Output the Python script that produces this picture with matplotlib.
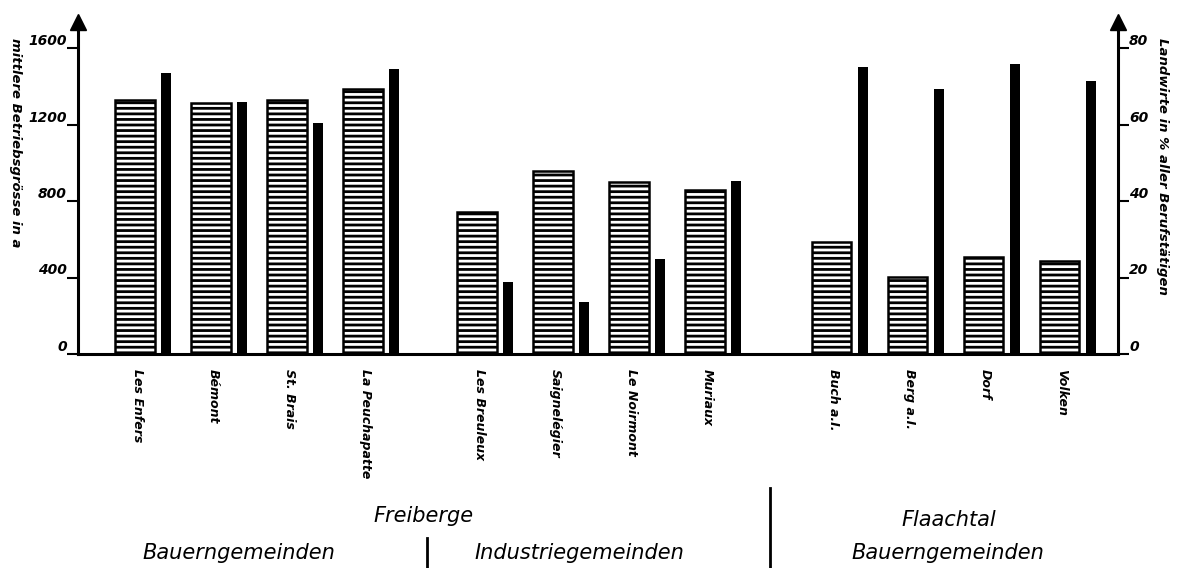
import matplotlib
matplotlib.use("Agg")
import matplotlib.pyplot as plt
from matplotlib.lines import Line2D
import numpy as np

# ---- data ----
categories = ["Les Enfers", "Bémont", "St. Brais", "La Peuchapatte",
              "Les Breuleux", "Saignelégier", "Le Noirmont", "Muriaux",
              "Buch a.I.", "Berg a.I.", "Dorf", "Volken"]
section = [0, 0, 0, 0, 1, 1, 1, 1, 2, 2, 2, 2]
betriebsgroesse = [1328, 1312, 1328, 1386, 742, 957, 899, 858, 586, 403, 507, 486]
landwirte_pct = [73.5, 66, 60.4, 74.5, 18.8, 13.6, 24.8, 45.2, 75, 69.3, 75.8, 71.5]
left_ticks = [0, 400, 800, 1200, 1600]
right_ticks = [0, 20, 40, 60, 80]

plt.rcParams['hatch.linewidth'] = 2.0
plt.rcParams['font.family'] = ['DejaVu Sans']

W, H = 1179, 568
fig = plt.figure(figsize=(W / 100, H / 100), dpi=100)
ax = fig.add_axes([78 / W, 1 - 354 / H, (1118 - 78) / W, (354 - 22) / H])

section_gap = [0.0, 0.5, 1.16]
x = np.array([i + section_gap[s] for i, s in enumerate(section)])

bw = 0.52
ax.bar(x, betriebsgroesse, width=bw, color='white', edgecolor='black',
       linewidth=1.8, hatch='---', zorder=2)
ymax = (354 - 22) / 306 * 1600
ax.set_ylim(0, ymax)
ax.set_xlim(-0.75, 12.93)

ax2 = ax.twinx()
ax2.bar(x + 0.41, landwirte_pct, width=0.13, color='black', zorder=2)
ax2.set_ylim(0, ymax / 20)
ax2.set_xlim(ax.get_xlim())

for a in (ax, ax2):
    a.spines['top'].set_visible(False)
ax.spines['right'].set_visible(False)
ax2.spines['left'].set_visible(False)
ax.spines['left'].set_linewidth(2.2)
ax.spines['bottom'].set_linewidth(2.2)
ax2.spines['right'].set_linewidth(2.2)
ax2.spines['bottom'].set_visible(False)

ax.set_yticks(left_ticks)
ax.set_yticklabels([str(t) for t in left_ticks], fontsize=10,
                   fontstyle='italic', fontweight='bold')
ax.tick_params(axis='y', length=8, width=1.5, pad=0, direction='out')
for lab in ax.get_yticklabels():
    lab.set_va('bottom')

ax2.set_yticks(right_ticks)
ax2.set_yticklabels([str(t) for t in right_ticks], fontsize=10,
                    fontstyle='italic', fontweight='bold')
ax2.tick_params(axis='y', length=8, width=1.5, pad=0, direction='out')
for lab in ax2.get_yticklabels():
    lab.set_va('bottom')

ax.set_xticks(x + 0.03)
ax.set_xticklabels(categories, rotation=-90, fontsize=9,
                   fontstyle='italic', fontweight='bold', va='top', ha='center')
ax.tick_params(axis='x', length=0, pad=11)

# arrows at top of the axes
for xa in (0, 1):
    ax.plot([xa], [1.0], marker='^', markersize=11, color='black',
            transform=ax.transAxes, clip_on=False, zorder=5)

# axis titles
fig.text(15 / W, 1 - 38 / H, "mittlere Betriebsgrösse in a", rotation=-90,
         va='top', ha='center', fontsize=9.5, fontstyle='italic', fontweight='bold')
fig.text(1163 / W, 1 - 38 / H, "Landwirte in % aller Berufstätigen", rotation=-90,
         va='top', ha='center', fontsize=9.5, fontstyle='italic', fontweight='bold')

# group labels
fs = 15
fig.text(424 / W, 1 - 516 / H, "Freiberge", ha='center', va='center',
         fontsize=fs, fontstyle='italic')
fig.text(949 / W, 1 - 520 / H, "Flaachtal", ha='center', va='center',
         fontsize=fs, fontstyle='italic')
fig.text(239 / W, 1 - 553 / H, "Bauerngemeinden", ha='center', va='center',
         fontsize=fs, fontstyle='italic')
fig.text(579 / W, 1 - 553 / H, "Industriegemeinden", ha='center', va='center',
         fontsize=fs, fontstyle='italic')
fig.text(948 / W, 1 - 553 / H, "Bauerngemeinden", ha='center', va='center',
         fontsize=fs, fontstyle='italic')

fig.add_artist(Line2D([427 / W, 427 / W], [1 - 538 / H, 0], color='black', lw=2))
fig.add_artist(Line2D([770 / W, 770 / W], [1 - 488 / H, 0], color='black', lw=2))

fig.savefig("out.png", dpi=100, facecolor='white')
